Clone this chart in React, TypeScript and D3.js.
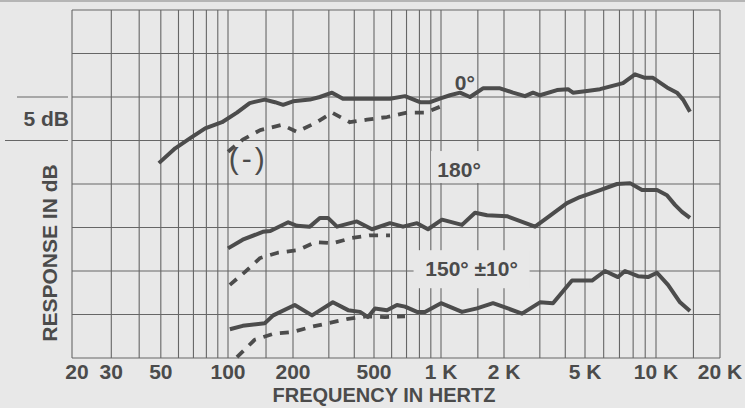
import React, { useEffect, useRef } from 'react';
import * as d3 from 'd3';

// frequency axis
const freqTicks = [20, 30, 50, 100, 200, 500, 1000, 2000, 5000, 10000, 20000];
const freqTickLabels = ['20', '30', '50', '100', '200', '500', '1 K', '2 K', '5 K', '10 K', '20 K'];
const gridFreqs = [
  20, 30, 40, 50, 60, 70, 80, 90, 100, 150, 200, 300, 400, 500, 600, 700, 800, 900,
  1000, 1500, 2000, 3000, 4000, 5000, 6000, 7000, 8000, 9000, 10000, 15000, 20000,
];
const dbGrid = [0, 5, 10, 15, 20, 25, 30, 35, 40];

// [Hz, dB]
const onAxis: [number, number][] = [
  [49, 22.4], [58, 24.1], [68, 25.3], [79, 26.4], [94, 27.1], [110, 28.2], [126, 29.3],
  [136, 29.5], [148, 29.7], [165, 29.4], [180, 29.1], [200, 29.5], [242, 29.7], [271, 30.0],
  [311, 30.5], [352, 29.8], [478, 29.8], [590, 29.8], [689, 30.1], [805, 29.4], [893, 29.4],
  [1011, 29.9], [1104, 30.2], [1233, 30.5], [1376, 30.0], [1587, 31.0], [1914, 31.0],
  [2214, 30.5], [2537, 30.1], [2777, 30.5], [3005, 30.2], [3642, 30.8], [4125, 30.9],
  [4364, 30.5], [5098, 30.7], [5790, 30.9], [7246, 31.6], [8146, 32.6], [8982, 32.2],
  [9710, 32.2], [11260, 31.1], [12550, 30.5], [13400, 29.7], [14450, 28.3],
];
const onAxisReverse: [number, number][] = [
  [100, 23.7], [117, 25.1], [141, 26.2], [178, 26.8], [209, 26.0], [262, 27.1], [311, 28.2],
  [381, 27.1], [462, 27.4], [572, 27.7], [704, 28.2], [847, 28.2], [1045, 29.1],
];
const rear180: [number, number][] = [
  [100, 12.6], [117, 13.6], [145, 14.5], [157, 14.6], [190, 15.6], [209, 15.2], [242, 15.1],
  [271, 16.1], [297, 16.1], [329, 15.1], [412, 15.7], [489, 14.8], [590, 15.5], [675, 15.1],
  [780, 15.5], [874, 14.8], [1011, 15.9], [1260, 15.3], [1454, 16.7], [1659, 16.4],
  [2070, 16.3], [2841, 15.1], [3254, 16.1], [4077, 17.8], [4722, 18.5], [5790, 19.3],
  [6834, 20.0], [7759, 20.1], [8724, 19.3], [10110, 19.3], [11260, 18.7], [12280, 17.6],
  [13250, 16.8], [14450, 16.1],
];
const rear180Reverse: [number, number][] = [
  [102, 8.4], [120, 9.9], [141, 11.5], [170, 12.1], [212, 12.4], [257, 13.3], [314, 13.2],
  [390, 13.8], [478, 14.1], [590, 14.1],
];
const rear150: [number, number][] = [
  [102, 3.3], [117, 3.7], [148, 4.0], [162, 4.9], [204, 6.1], [248, 4.9], [314, 6.4],
  [373, 5.5], [427, 5.3], [467, 4.7], [505, 5.7], [572, 5.5], [634, 6.1], [689, 5.9],
  [780, 5.3], [847, 5.3], [1000, 6.3], [1260, 5.3], [1486, 5.7], [1772, 6.3], [1978, 5.9],
  [2452, 5.1], [3005, 6.4], [3481, 6.3], [4316, 8.9], [5355, 8.9], [6078, 10.0], [6902, 9.3],
  [7388, 10.0], [8387, 9.4], [9250, 9.3], [10110, 9.8], [11390, 8.4], [12970, 6.4],
  [14450, 5.4],
];
const rear150Reverse: [number, number][] = [
  [110, 0.1], [133, 2.1], [163, 2.8], [200, 3.0], [248, 3.6], [297, 4.0], [373, 4.5],
  [462, 4.8], [560, 4.7], [689, 4.8],
];

const FONT = '"Liberation Sans", Arial, Helvetica, sans-serif';
const BG = '#e8e8e8';
const INK = '#4b4b4b';

const ResponseChart = () => {
  const svgRef = useRef<SVGSVGElement>(null);

  useEffect(() => {
    const svg = d3.select(svgRef.current).attr('width', 745).attr('height', 408);
    svg.selectAll('*').remove();

    svg.append('rect').attr('width', 745).attr('height', 408).attr('fill', BG);
    // scan edge at the top
    svg.append('line').attr('x1', 0).attr('x2', 745).attr('y1', 1).attr('y2', 1)
      .attr('stroke', '#b5b5b5').attr('stroke-width', 2);

    // the printed grid is not quite uniform, so the log scale is piecewise
    const x = d3.scaleLog()
      .domain([20, 100, 200, 500, 1000, 2000, 5000, 10000, 20000])
      .range([72, 228, 293, 374, 441, 504, 585, 656, 720]);
    const y = d3.scaleLinear().domain([0, 40]).range([358, 10]);

    const grid = svg.append('g').attr('stroke', '#666').attr('stroke-width', 1.1);
    grid.selectAll('line.v').data(gridFreqs).join('line')
      .attr('class', 'v')
      .attr('x1', d => x(d)).attr('x2', d => x(d))
      .attr('y1', y(40)).attr('y2', y(0));
    grid.selectAll('line.h').data(dbGrid).join('line')
      .attr('class', 'h')
      .attr('x1', x(20)).attr('x2', x(20000))
      .attr('y1', d => y(d)).attr('y2', d => y(d));

    // 5 dB scale marker
    svg.append('line').attr('x1', 17).attr('x2', 68).attr('y1', y(30)).attr('y2', y(30))
      .attr('stroke', '#666').attr('stroke-width', 1.1);
    svg.append('line').attr('x1', 5).attr('x2', 68).attr('y1', y(25)).attr('y2', y(25))
      .attr('stroke', '#666').attr('stroke-width', 1.1);
    svg.append('text').attr('x', 69).attr('y', 126).attr('text-anchor', 'end')
      .style('font-family', FONT).style('font-size', '21px').style('font-weight', 'bold')
      .attr('fill', INK).text('5 dB');

    // label boxes break the grid
    const labelBox = (cx: number, base: number, w: number, up: number, down: number) =>
      svg.append('rect').attr('x', cx - w / 2).attr('y', base - up)
        .attr('width', w).attr('height', up + down).attr('fill', BG);
    labelBox(x(1220), y(20.8), 56, 26, 6);
    labelBox(x(1400), y(9.4), 116, 26, 12);

    const line = d3.line<[number, number]>()
      .x(d => x(d[0]))
      .y(d => y(d[1]));

    const curves = svg.append('g').attr('fill', 'none').attr('stroke', '#4c4c4c')
      .attr('stroke-linejoin', 'round');
    [onAxis, rear180, rear150].forEach(s => {
      curves.append('path').datum(s).attr('d', line).attr('stroke-width', 4);
    });
    [onAxisReverse, rear180Reverse, rear150Reverse].forEach(s => {
      curves.append('path').datum(s).attr('d', line).attr('stroke-width', 3.8)
        .attr('stroke-dasharray', '9 8');
    });

    const label = (fx: number, db: number, t: string) =>
      svg.append('text').attr('x', x(fx)).attr('y', y(db)).attr('text-anchor', 'middle')
        .style('font-family', FONT).style('font-size', '21px').style('font-weight', 'bold')
        .attr('fill', INK).text(t);
    label(1300, 30.8, '0°');
    label(1220, 20.8, '180°');
    label(1400, 9.4, '150° ±10°');

    svg.append('text').attr('x', x(124)).attr('y', y(21.7)).attr('text-anchor', 'middle')
      .style('font-family', FONT).style('font-size', '30px').style('letter-spacing', '3px')
      .attr('fill', INK).text('(-)');

    // axis labels
    svg.append('g').selectAll('text').data(freqTicks).join('text')
      .attr('x', d => x(d) + (d === 20 ? 5 : 0))
      .attr('y', 379)
      .attr('text-anchor', 'middle')
      .style('font-family', FONT).style('font-size', '21px').style('font-weight', 'bold')
      .attr('fill', INK)
      .text((d, i) => freqTickLabels[i]);

    svg.append('text').attr('x', 384).attr('y', 402).attr('text-anchor', 'middle')
      .style('font-family', FONT).style('font-size', '20px').style('font-weight', 'bold')
      .attr('fill', INK).text('FREQUENCY IN HERTZ');

    svg.append('text').attr('transform', 'translate(57,253) rotate(-90)')
      .attr('text-anchor', 'middle')
      .style('font-family', FONT).style('font-size', '21px').style('font-weight', 'bold')
      .attr('fill', INK).text('RESPONSE IN dB');
  }, []);

  return <svg ref={svgRef} style={{ position: 'absolute', left: 0, top: 0, display: 'block' }}></svg>;
};

export default function App() {
  return <ResponseChart />;
}
